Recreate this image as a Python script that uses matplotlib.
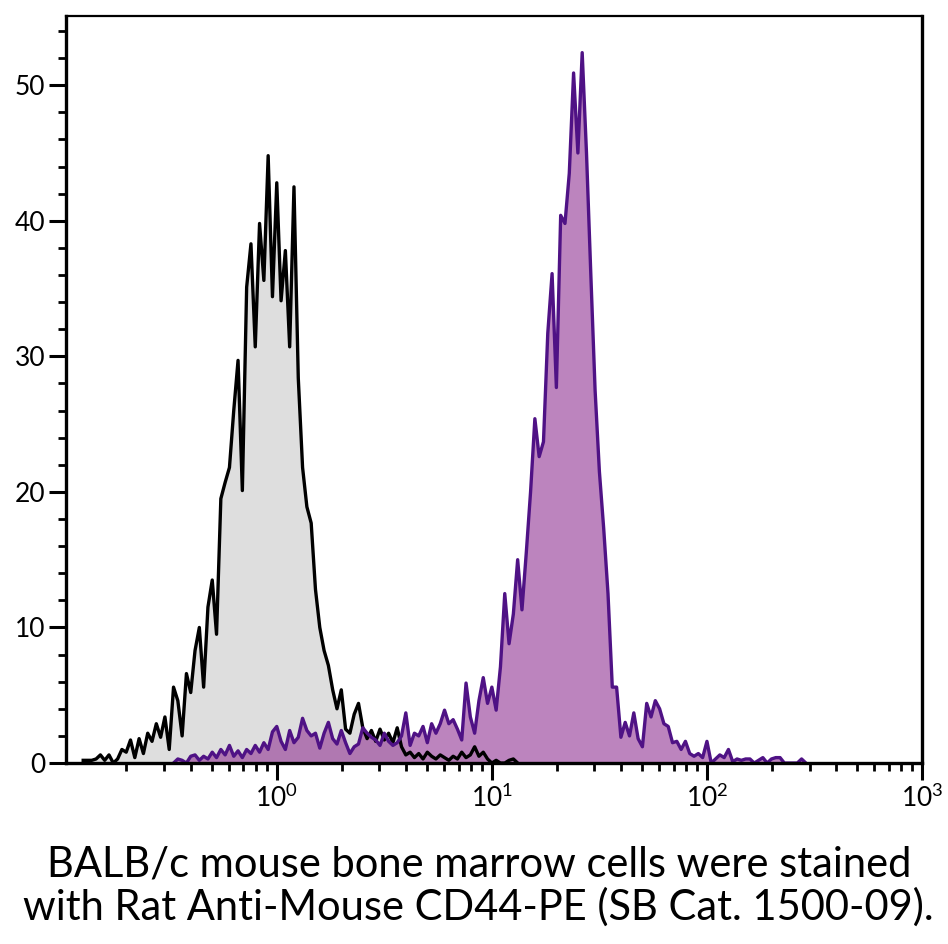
import matplotlib
matplotlib.use('Agg')
import matplotlib.pyplot as plt
from matplotlib.ticker import LogLocator, NullFormatter, FixedLocator
import numpy as np

# channel positions (log10 of fluorescence), one bin every 0.02 decade
gray_start = -0.90
purple_start = -0.48
bin_step = 0.02

# isotype control (gray)
gray_counts = [
    0.2, 0.2, 0.2, 0.3, 0.6, 0.2, 0.6, 0.0, 0.3, 1.0,
    0.8, 1.7, 0.4, 1.8, 0.7, 2.2, 1.6, 2.9, 1.9, 3.4,
    1.0, 5.6, 4.6, 2.0, 6.6, 5.2, 8.3, 10.0, 5.6, 11.5,
    13.5, 9.5, 19.5, 20.7, 21.8, 26.0, 29.7, 20.1, 35.1, 38.3,
    30.7, 39.8, 35.6, 44.8, 34.4, 42.8, 34.1, 37.8, 30.7, 42.5,
    28.4, 21.8, 18.9, 17.7, 12.8, 10.0, 8.3, 7.2, 5.4, 4.0,
    5.4, 2.5, 2.2, 3.6, 4.4, 2.6, 1.8, 2.4, 1.6, 2.5,
    1.7, 2.2, 1.5, 2.6, 1.2, 0.6, 0.8, 0.4, 0.7, 0.3,
    0.8, 0.5, 0.3, 0.6, 0.4, 0.2, 0.5, 0.3, 0.8, 0.4,
    0.6, 1.2, 0.5, 0.8, 0.3, 0.0, 0.2, 0.0, 0.0, 0.2,
    0.3, 0.0,
]

# CD44-PE stained (purple)
purple_counts = [
    0.0, 0.3, 0.2, 0.0, 0.5, 0.6, 0.2, 0.5, 0.3, 0.8,
    0.4, 1.0, 0.6, 1.3, 0.5, 0.9, 0.4, 1.0, 0.7, 1.3,
    0.8, 1.5, 1.0, 2.3, 2.7, 1.6, 1.0, 2.4, 1.5, 1.9,
    3.3, 2.4, 2.0, 2.2, 1.1, 2.2, 3.0, 1.8, 1.4, 2.4,
    1.5, 0.7, 1.2, 1.4, 2.6, 2.2, 1.9, 1.7, 1.3, 2.2,
    1.6, 1.3, 1.5, 2.0, 3.7, 1.3, 2.2, 2.0, 2.7, 1.5,
    2.9, 2.2, 2.9, 3.9, 2.9, 3.2, 2.5, 1.7, 5.9, 3.4,
    2.2, 4.6, 6.3, 4.4, 5.6, 3.9, 7.1, 12.5, 8.8, 11.0,
    15.0, 11.3, 15.5, 20.0, 25.4, 22.6, 23.7, 31.7, 36.1, 27.7,
    40.4, 39.8, 43.5, 50.9, 45.0, 52.4, 45.0, 36.1, 27.5, 21.5,
    17.3, 12.5, 5.6, 5.6, 1.9, 3.0, 2.0, 3.7, 1.8, 1.2,
    4.4, 3.4, 4.6, 4.0, 2.9, 2.7, 1.5, 1.6, 1.0, 1.6,
    0.7, 0.5, 0.7, 0.4, 1.6, 0.0, 0.3, 0.6, 0.4, 1.0,
    0.1, 0.3, 0.2, 0.3, 0.3, 0.0, 0.2, 0.4, 0.0, 0.3,
    0.4, 0.4, 0.0, 0.0, 0.0, 0.0, 0.3, 0.0,
]

x_ticks = [1, 10, 100, 1000]
x_tick_labels = ['$10^{0}$', '$10^{1}$', '$10^{2}$', '$10^{3}$']
y_ticks = [0, 10, 20, 30, 40, 50]

caption = ('BALB/c mouse bone marrow cells were stained\n'
           'with Rat Anti-Mouse CD44-PE (SB Cat. 1500-09).')

plt.rcParams['font.family'] = ['Lato', 'DejaVu Sans']
plt.rcParams['mathtext.fontset'] = 'custom'
plt.rcParams['mathtext.rm'] = 'Lato'
plt.rcParams['mathtext.it'] = 'Lato'

gray_x = 10 ** (gray_start + bin_step * np.arange(len(gray_counts)))
purple_x = 10 ** (purple_start + bin_step * np.arange(len(purple_counts)))

fig = plt.figure(figsize=(9.48, 9.44), dpi=100)
ax = fig.add_axes([0.0696, 0.1917, 0.9030, 0.7913])

ax.fill_between(gray_x, gray_counts, color='#dedede', lw=0)
ax.plot(gray_x, gray_counts, color='black', lw=2.4, solid_joinstyle='round')
ax.fill_between(purple_x, purple_counts, color='#943996', alpha=0.62, lw=0)
ax.plot(purple_x, purple_counts, color='#4f1285', lw=2.4, solid_joinstyle='round')

ax.set_xscale('log')
ax.set_xlim(10 ** -0.98, 10 ** 3.0)
ax.set_ylim(0, 55.1)

ax.xaxis.set_major_locator(FixedLocator(x_ticks))
ax.set_xticklabels(x_tick_labels)
ax.xaxis.set_minor_locator(LogLocator(base=10, subs=np.arange(2, 10)))
ax.xaxis.set_minor_formatter(NullFormatter())
ax.set_yticks(y_ticks)
ax.yaxis.set_minor_locator(FixedLocator(np.arange(0, 56, 2)))

ax.tick_params(axis='both', which='major', direction='out', length=12,
               width=2.2, labelsize=19, color='black')
ax.tick_params(axis='both', which='minor', direction='out', length=6,
               width=2.0, color='black')
ax.tick_params(axis='x', which='major', pad=3)
ax.tick_params(axis='y', which='major', pad=3)

for side in ['left', 'bottom', 'right']:
    ax.spines[side].set_linewidth(2.4)
ax.spines['top'].set_linewidth(1.6)

fig.text(0.505, 0.104, caption, ha='center', va='top', fontsize=30,
         linespacing=1.12)

fig.savefig('out.png', dpi=100)
